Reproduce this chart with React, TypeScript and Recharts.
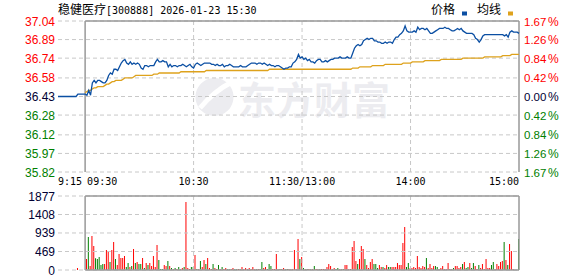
import React from 'react';
import { ComposedChart, BarChart, Line, Bar, Cell, XAxis, YAxis, ReferenceLine } from 'recharts';

// 稳健医疗 300888 intraday, 2026-01-23
const prevClose = 36.43;

const priceTicks = [37.04, 36.89, 36.74, 36.58, 36.43, 36.28, 36.12, 35.97, 35.82];
const pctLabels = ['1.67', '1.26', '0.84', '0.42', '0.00', '0.42', '0.84', '1.26', '1.67'];
const volTicks = [0, 469, 939, 1408, 1877];
const volLabels = ['0', '469', '939', '1408', '1877'];
const timeTicks = [-15, 0, 60, 120, 180, 240];
const timeLabels = ['9:15', '09:30', '10:30', '11:30/13:00', '14:00', '15:00'];

// call auction 9:15 - 9:29
const auctionPrice = [
  36.43, 36.43, 36.43, 36.43, 36.43, 36.43, 36.43, 36.43, 36.43, 36.43,
  36.43, 36.45, 36.45, 36.45, 36.45,
];
const auctionVolume = [0, 0, 0, 0, 0, 0, 0, 0, 0, 0, 0, 51, 0, 0, 0];

// one value per minute, 09:30 .. 11:30 / 13:01 .. 15:00
const price = [
  36.45, 36.44, 36.48, 36.44, 36.54, 36.56, 36.54, 36.56, 36.56, 36.55,
  36.54, 36.54, 36.56, 36.60, 36.62, 36.61, 36.65, 36.65, 36.64, 36.67,
  36.70, 36.72, 36.73, 36.70, 36.69, 36.71, 36.69, 36.70, 36.69, 36.70,
  36.69, 36.66, 36.65, 36.68, 36.68, 36.67, 36.68, 36.68, 36.68, 36.71,
  36.73, 36.71, 36.71, 36.72, 36.71, 36.71, 36.67, 36.69, 36.67, 36.68,
  36.68, 36.67, 36.68, 36.68, 36.69, 36.68, 36.67, 36.68, 36.69, 36.67,
  36.66, 36.69, 36.70, 36.69, 36.68, 36.69, 36.70, 36.70, 36.70, 36.70,
  36.69, 36.69, 36.68, 36.69, 36.68, 36.68, 36.69, 36.67, 36.68, 36.68,
  36.69, 36.68, 36.67, 36.67, 36.67, 36.67, 36.68, 36.67, 36.67, 36.67,
  36.68, 36.69, 36.70, 36.70, 36.70, 36.69, 36.70, 36.70, 36.69, 36.70,
  36.69, 36.68, 36.69, 36.68, 36.68, 36.67, 36.68, 36.68, 36.67, 36.66,
  36.65, 36.66, 36.66, 36.67, 36.67, 36.70, 36.71, 36.73, 36.77, 36.74,
  36.75, 36.73, 36.74, 36.72, 36.73, 36.71, 36.71, 36.70, 36.72, 36.73,
  36.73, 36.71, 36.71, 36.72, 36.71, 36.72, 36.73, 36.73, 36.74, 36.74,
  36.74, 36.75, 36.74, 36.74, 36.74, 36.75, 36.74, 36.74, 36.78, 36.82,
  36.84, 36.85, 36.84, 36.85, 36.88, 36.89, 36.90, 36.89, 36.90, 36.90,
  36.88, 36.88, 36.87, 36.87, 36.86, 36.86, 36.87, 36.86, 36.87, 36.87,
  36.86, 36.89, 36.91, 36.91, 36.93, 36.94, 36.96, 37.00, 36.96, 36.95,
  36.95, 36.95, 36.96, 36.95, 36.99, 36.97, 36.98, 36.98, 36.97, 36.98,
  36.96, 36.94, 36.94, 36.95, 36.96, 36.97, 36.98, 36.98, 36.98, 36.99,
  36.98, 36.98, 36.97, 36.96, 36.96, 36.97, 36.98, 36.97, 36.98, 36.96,
  36.95, 36.94, 36.94, 36.94, 36.94, 36.93, 36.90, 36.89, 36.87, 36.89,
  36.92, 36.93, 36.93, 36.93, 36.93, 36.93, 36.93, 36.93, 36.93, 36.93,
  36.93, 36.93, 36.92, 36.93, 36.91, 36.95, 36.96, 36.95, 36.95, 36.95,
  36.94,
];

const avg = [
  36.46, 36.47, 36.48, 36.48, 36.49, 36.50, 36.50, 36.51, 36.51, 36.51,
  36.51, 36.52, 36.53, 36.53, 36.54, 36.55, 36.55, 36.56, 36.56, 36.56,
  36.56, 36.57, 36.58, 36.58, 36.58, 36.58, 36.58, 36.59, 36.60, 36.60,
  36.60, 36.60, 36.60, 36.60, 36.60, 36.60, 36.60, 36.60, 36.61, 36.61,
  36.61, 36.62, 36.62, 36.62, 36.62, 36.62, 36.62, 36.62, 36.62, 36.62,
  36.62, 36.62, 36.62, 36.63, 36.63, 36.63, 36.63, 36.63, 36.63, 36.63,
  36.63, 36.63, 36.63, 36.63, 36.63, 36.63, 36.63, 36.64, 36.64, 36.64,
  36.64, 36.64, 36.64, 36.64, 36.64, 36.64, 36.64, 36.64, 36.64, 36.64,
  36.64, 36.64, 36.64, 36.64, 36.64, 36.64, 36.64, 36.64, 36.64, 36.64,
  36.64, 36.64, 36.64, 36.64, 36.64, 36.64, 36.64, 36.64, 36.64, 36.64,
  36.64, 36.64, 36.65, 36.65, 36.65, 36.65, 36.65, 36.65, 36.65, 36.65,
  36.65, 36.65, 36.65, 36.65, 36.65, 36.65, 36.65, 36.65, 36.65, 36.65,
  36.65, 36.65, 36.65, 36.65, 36.65, 36.65, 36.65, 36.65, 36.65, 36.65,
  36.65, 36.65, 36.65, 36.65, 36.65, 36.65, 36.65, 36.65, 36.65, 36.65,
  36.65, 36.65, 36.65, 36.65, 36.65, 36.65, 36.65, 36.65, 36.66, 36.66,
  36.66, 36.66, 36.67, 36.67, 36.67, 36.67, 36.67, 36.67, 36.67, 36.68,
  36.68, 36.68, 36.68, 36.68, 36.68, 36.68, 36.69, 36.69, 36.69, 36.69,
  36.69, 36.69, 36.69, 36.69, 36.69, 36.69, 36.70, 36.70, 36.70, 36.70,
  36.70, 36.71, 36.71, 36.71, 36.71, 36.71, 36.71, 36.71, 36.72, 36.72,
  36.72, 36.72, 36.72, 36.72, 36.72, 36.72, 36.72, 36.73, 36.73, 36.73,
  36.73, 36.73, 36.73, 36.73, 36.73, 36.73, 36.73, 36.73, 36.73, 36.74,
  36.74, 36.74, 36.74, 36.74, 36.74, 36.74, 36.74, 36.74, 36.74, 36.74,
  36.74, 36.75, 36.75, 36.75, 36.75, 36.75, 36.75, 36.75, 36.75, 36.75,
  36.75, 36.76, 36.76, 36.76, 36.76, 36.76, 36.77, 36.77, 36.77, 36.77,
  36.77,
];

const volume = [
  0, 279, 837, 101, 862, 608, 296, 279, 330, 127,
  152, 152, 507, 456, 203, 507, 710, 279, 127, 406,
  304, 304, 355, 76, 177, 76, 101, 532, 177, 203,
  152, 152, 304, 51, 177, 127, 177, 101, 355, 76,
  634, 253, 25, 25, 127, 101, 228, 101, 51, 25,
  51, 25, 76, 25, 51, 76, 1724, 51, 25, 76,
  76, 380, 25, 25, 228, 76, 253, 152, 304, 51,
  25, 152, 51, 25, 127, 25, 76, 25, 51, 25,
  25, 25, 51, 25, 25, 25, 25, 76, 25, 51,
  25, 51, 25, 76, 25, 25, 25, 25, 203, 51,
  76, 25, 152, 101, 25, 25, 406, 25, 25, 25,
  51, 25, 25, 25, 25, 25, 507, 25, 786, 279,
  330, 51, 25, 25, 25, 25, 25, 101, 25, 25,
  25, 25, 25, 25, 76, 152, 101, 25, 51, 25,
  51, 25, 25, 25, 127, 127, 25, 25, 583, 735,
  228, 152, 279, 608, 532, 279, 127, 51, 203, 279,
  152, 152, 51, 127, 76, 76, 51, 127, 76, 76,
  76, 76, 76, 177, 127, 127, 684, 1090, 76, 177,
  51, 51, 76, 51, 355, 76, 51, 101, 76, 304,
  51, 152, 51, 101, 101, 76, 25, 51, 101, 25,
  25, 177, 25, 25, 51, 101, 101, 51, 76, 152,
  203, 51, 76, 177, 51, 177, 101, 25, 127, 51,
  152, 25, 279, 51, 51, 127, 203, 25, 152, 101,
  203, 228, 710, 253, 127, 659, 482, 25, 0, 0,
  786,
];

// r = up minute (red bar), g = down minute (green bar)
const volumeDir =
  'rrgrrrgggg' + 'grrrgrrgrr' + 'rrrggrgrgr' + 'ggrgrgrrrr' + 'rgggrrgrgr' +
  'grgrrgrrrg' + 'grgrgrrgrr' + 'rgrrgrgrrg' + 'grrggrgrrr' + 'rrrrrgrggr' +
  'rgggrrrrgr' + 'rrgrrrrrrg' + 'rgrgrgrgrr' + 'grrrrrrrrg' + 'grrgrrrrrr' +
  'rgrrrgrrrr' + 'gggrrgrrgg' + 'rrrrrrrrgg' + 'rrrrrrrrrg' + 'rrrrggrrrr' +
  'rrgrgrrrrg' + 'rggrggrrgr' + 'rrrrrggrrr' + 'rrgrgrrrrr' + 'g';

const RED = '#ff0000';
const GREEN = '#008000';
const DARK = '#000033';
const BLUE = '#0b4fa3';
const GOLD = '#dea21c';
const GRID = '#c8c8c8';
const FRAME = '#999999';
const NUM_FONT = "'Liberation Sans', Arial, sans-serif";
const MONO_FONT = "'DejaVu Sans Mono', monospace";
const CJK_FONT = "'Noto Sans CJK SC', sans-serif";

const rows = [
  ...auctionPrice.map((p, k) => ({ m: k - 15, price: p, vol: auctionVolume[k], up: true })),
  ...price.map((p, i) => ({ m: i, price: p, avg: avg[i], vol: volume[i], up: volumeDir[i] === 'r' })),
];

const tickColor = (v: number) => (v > prevClose ? RED : v < prevClose ? GREEN : DARK);

const PriceTick = (props: any) => {
  const v = props.payload.value;
  return (
    <text x={55} y={props.y} dy={4.5} textAnchor="end" fill={tickColor(v)} fontFamily={NUM_FONT} fontSize={12}>
      {v.toFixed(2)}
    </text>
  );
};

const PctTick = (props: any) => {
  const v = props.payload.value;
  const idx = priceTicks.indexOf(v);
  return (
    <text x={524} y={props.y} dy={4.5} textAnchor="start" fill={tickColor(v)} fontFamily={NUM_FONT} fontSize={11.5}>
      {pctLabels[idx]}
      <tspan dx={1.5} fontSize={12}>%</tspan>
    </text>
  );
};

const TimeTick = (props: any) => {
  const idx = timeTicks.indexOf(props.payload.value);
  const last = timeTicks.length - 1;
  const anchor = idx === 0 ? 'start' : idx === 1 ? 'start' : idx === last ? 'end' : 'middle';
  const dx = idx === 1 ? 2 : 0;
  return (
    <text x={props.x + dx} y={185} textAnchor={anchor} fill="#000" fontFamily={MONO_FONT} fontSize={10}>
      {timeLabels[idx]}
    </text>
  );
};

const VolTick = (props: any) => {
  const idx = volTicks.indexOf(props.payload.value);
  return (
    <text x={55} y={props.y} dy={4.5} textAnchor="end" fill={DARK} fontFamily={NUM_FONT} fontSize={12}>
      {volLabels[idx]}
    </text>
  );
};

const dash = { stroke: GRID, strokeDasharray: '4 3', strokeWidth: 1 };
const solid = { stroke: FRAME, strokeWidth: 1.5 };

export default function App() {
  const top = priceTicks[0];
  const bottomVol = volTicks[0];
  const topVol = volTicks[volTicks.length - 1];
  return (
    <div style={{ position: 'absolute', left: 0, top: 0, width: 578, height: 276, background: '#fff', overflow: 'hidden' }}>
      <svg width={578} height={276} style={{ position: 'absolute', left: 0, top: 0 }}>
        <g fill="#ececf0">
          <path d="M214 78 a19 19 0 1 0 1 0 Z" />
          <text x={238} y={114} fontFamily={CJK_FONT} fontSize={38} fontWeight={700}>东方财富</text>
        </g>
        <path d="M200 108 C210 96 220 88 232 82" stroke="#fff" strokeWidth={5} fill="none" />
      </svg>

      <div style={{ position: 'absolute', left: 0, top: 0 }}>
        <ComposedChart width={578} height={276} data={rows} margin={{ top: 21, right: 0, bottom: 74, left: 0 }}>
          <XAxis
            dataKey="m"
            type="number"
            domain={[-15, 240]}
            ticks={timeTicks}
            interval={0}
            axisLine={false}
            tickLine={false}
            height={30}
            tick={<TimeTick />}
          />
          <YAxis
            yAxisId="l"
            orientation="left"
            width={58}
            type="number"
            domain={[priceTicks[priceTicks.length - 1], top]}
            ticks={priceTicks}
            interval={0}
            allowDataOverflow
            axisLine={false}
            tickLine={false}
            tick={<PriceTick />}
          />
          <YAxis
            yAxisId="r"
            orientation="right"
            width={59}
            type="number"
            domain={[priceTicks[priceTicks.length - 1], top]}
            ticks={priceTicks}
            interval={0}
            allowDataOverflow
            axisLine={false}
            tickLine={false}
            tick={<PctTick />}
          />
          {priceTicks.map((t) => (
            <ReferenceLine key={'h' + t} yAxisId="l" y={t} {...dash} />
          ))}
          {[60, 120, 180].map((t) => (
            <ReferenceLine key={'v' + t} yAxisId="l" x={t} {...dash} />
          ))}
          <ReferenceLine yAxisId="l" segment={[{ x: 0, y: top }, { x: 240, y: top }]} {...solid} />
          <ReferenceLine yAxisId="l" x={0} {...solid} />
          <ReferenceLine yAxisId="l" x={240} {...solid} />
          <Line yAxisId="l" type="linear" dataKey="avg" stroke={GOLD} strokeWidth={1.3} dot={false} activeDot={false} isAnimationActive={false} />
          <Line yAxisId="l" type="linear" dataKey="price" stroke={BLUE} strokeWidth={1.3} dot={false} activeDot={false} isAnimationActive={false} />
        </ComposedChart>
      </div>

      <div style={{ position: 'absolute', left: 0, top: 0 }}>
        <BarChart width={578} height={276} data={rows} margin={{ top: 196, right: 59, bottom: 6, left: 0 }}>
          <XAxis dataKey="m" type="number" domain={[-15, 240]} hide />
          <YAxis
            width={58}
            type="number"
            domain={[bottomVol, topVol]}
            ticks={volTicks}
            interval={0}
            allowDataOverflow
            axisLine={false}
            tickLine={false}
            tick={<VolTick />}
          />
          {volTicks.map((t) => (
            <ReferenceLine key={'vh' + t} y={t} {...dash} />
          ))}
          {[60, 120, 180].map((t) => (
            <ReferenceLine key={'vv' + t} x={t} {...dash} />
          ))}
          <Bar dataKey="vol" barSize={1} isAnimationActive={false}>
            {rows.map((r) => (
              <Cell key={r.m} fill={r.up ? RED : GREEN} />
            ))}
          </Bar>
          <ReferenceLine segment={[{ x: 0, y: topVol }, { x: 240, y: topVol }]} {...solid} />
          <ReferenceLine segment={[{ x: 0, y: bottomVol }, { x: 240, y: bottomVol }]} {...solid} />
          <ReferenceLine x={0} {...solid} />
          <ReferenceLine x={240} {...solid} />
        </BarChart>
      </div>

      <svg width={578} height={24} style={{ position: 'absolute', left: 0, top: 0 }}>
        <text x={58} y={14} fill="#000">
          <tspan fontFamily={CJK_FONT} fontSize={12}>稳健医疗</tspan>
          <tspan fontFamily={MONO_FONT} fontSize={10}>[300888] 2026-01-23 15:30</tspan>
        </text>
        <text x={431} y={14} fill="#000" fontFamily={CJK_FONT} fontSize={12}>价格</text>
        <rect x={462} y={11.5} width={5} height={4} fill={BLUE} />
        <text x={477} y={14} fill="#000" fontFamily={CJK_FONT} fontSize={12}>均线</text>
        <rect x={508} y={11.5} width={5} height={4} fill={GOLD} />
      </svg>
    </div>
  );
}
